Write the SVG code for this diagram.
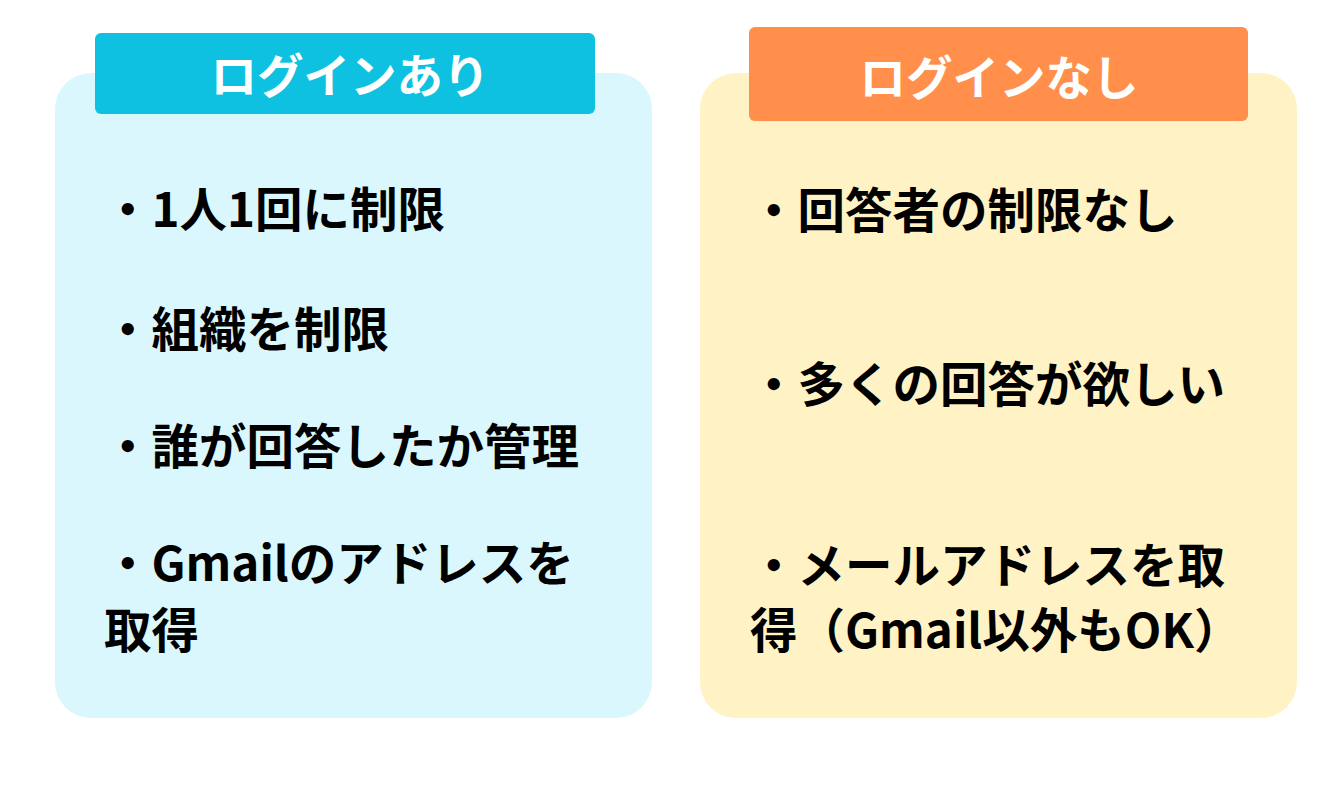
<svg xmlns="http://www.w3.org/2000/svg" width="1344" height="800" viewBox="0 0 1344 800">
<style>
.t{font-family:"Noto Sans CJK JP","Noto Sans",sans-serif;font-weight:700;font-size:47.5px;fill:#000}
.h{font-family:"Noto Sans CJK JP","Noto Sans",sans-serif;font-weight:700;font-size:46.5px;fill:#fff;text-anchor:middle}
</style>
<rect width="1344" height="800" fill="#fff"/>
<g id="login-yes">
<rect x="55" y="73" width="597" height="645" rx="36" fill="#DAF7FD"/>
<rect x="95" y="33" width="500" height="81" rx="6" fill="#0EC1E0"/>
<text class="h" x="350" y="93">ログインあり</text>
<text class="t" x="104" y="227">・1人1回に制限</text>
<text class="t" x="104" y="347">・組織を制限</text>
<text class="t" x="104" y="464">・誰が回答したか管理</text>
<text class="t" x="104" y="581">・Gmailのアドレスを</text>
<text class="t" x="104" y="648">取得</text>
</g>
<g id="login-no">
<rect x="700" y="73" width="597" height="645" rx="36" fill="#FFF2C5"/>
<rect x="749" y="27" width="499" height="94" rx="6" fill="#FF8F4B"/>
<text class="h" x="999" y="95">ログインなし</text>
<text class="t" x="750" y="228">・回答者の制限なし</text>
<text class="t" x="750" y="402">・多くの回答が欲しい</text>
<text class="t" x="750" y="583">・メールアドレスを取</text>
<text class="t" x="750" y="648">得（Gmail以外もOK）</text>
</g>
<g id="connectors"/>
</svg>
